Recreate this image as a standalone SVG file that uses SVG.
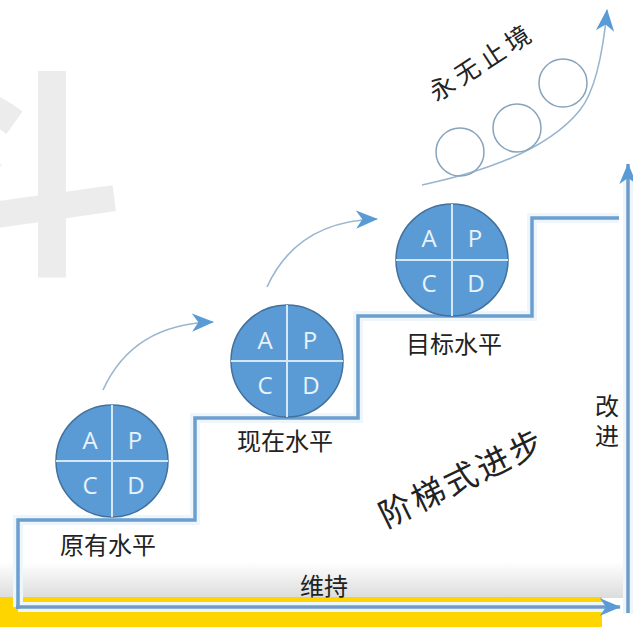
<svg xmlns="http://www.w3.org/2000/svg" width="633" height="627" viewBox="0 0 633 627">
<defs>
<style>
.cjk{font-family:"Noto Sans CJK SC","Noto Sans",sans-serif;fill:#222;}
.lbl{font-size:24px;text-anchor:middle;}
.disk{fill:#5b9bd5;stroke:#41719c;stroke-width:1.5;}
.div{stroke:#d4e8f7;stroke-width:2;}
.let{font-family:"Open Sans","Liberation Sans",sans-serif;font-size:24px;fill:#e8f3fc;text-anchor:middle;}
.halo{fill:none;stroke:#eef5fb;stroke-width:10;stroke-linejoin:miter;}
.stair{fill:none;stroke:#6a9fd0;stroke-width:3.5;stroke-linejoin:miter;}
.axis{fill:none;stroke:#6f9cc6;stroke-width:3.5;}
.curve{fill:none;stroke:#9ab6cf;stroke-width:1.6;}
.ring{fill:none;stroke:#86a3bb;stroke-width:1.5;}
</style>
<linearGradient id="fade" x1="0" y1="0" x2="0" y2="1">
<stop offset="0" stop-color="#ffffff"/>
<stop offset="1" stop-color="#dcdcdc"/>
</linearGradient>
<marker id="ah" viewBox="0 0 12 10" refX="11.5" refY="5" markerUnits="userSpaceOnUse" markerWidth="21" markerHeight="18" orient="auto">
<path d="M0,0 L12,5 L0,10 L3.5,5 z" fill="#5b9bd5"/>
</marker>
<marker id="ahs" viewBox="0 0 12 10" refX="11.5" refY="5" markerUnits="userSpaceOnUse" markerWidth="22" markerHeight="20" orient="auto">
<path d="M0,0 L12,5 L0,10 L3.5,5 z" fill="#5b9bd5"/>
</marker>
</defs>

<rect width="633" height="627" fill="#ffffff"/>

<g id="watermark">
<text x="-94" y="258" font-family="Noto Sans CJK SC, sans-serif" font-weight="bold" font-size="220" fill="#ececec">斗</text>
</g>

<g id="footer-band">
<rect x="0" y="562" width="633" height="36" fill="url(#fade)"/>
<rect x="0" y="597" width="602" height="30" fill="#ffd500"/>
</g>

<g id="connectors">
<path class="halo" d="M18,607 L18,520 L195,520 L195,418 L358,418 L358,316 L532,316 L532,218 L619,218"/>
<path class="halo" d="M18,607 L610,607"/>
<path class="halo" d="M628,614 L628,180"/>
<path class="stair" d="M18,609 L18,520 L195,520 L195,418 L358,418 L358,316 L532,316 L532,218 L619,218"/>
<path class="axis" d="M16,607 L620,607" marker-end="url(#ah)"/>
<path class="axis" d="M628,613 L628,164" marker-end="url(#ah)"/>
<path class="curve" d="M103,390 Q133,324 213,322" marker-end="url(#ahs)"/>
<path class="curve" d="M267,287 Q297,221 377,219" marker-end="url(#ahs)"/>
<path class="curve" d="M422,185 Q540,160 580,110 Q600,85 607,10" marker-end="url(#ahs)"/>
</g>

<g id="endless">
<circle class="ring" cx="460" cy="152" r="24"/>
<circle class="ring" cx="517" cy="128" r="24"/>
<circle class="ring" cx="563" cy="83" r="24"/>
<text class="cjk" transform="translate(482 62) rotate(-33)" x="0" y="9" font-size="25" letter-spacing="5" text-anchor="middle">永无止境</text>
</g>

<g id="level-original">
<circle class="disk" cx="112" cy="461" r="56"/>
<line class="div" x1="112" y1="405" x2="112" y2="517"/>
<line class="div" x1="56" y1="461" x2="168" y2="461"/>
<text class="let" x="90" y="449">A</text>
<text class="let" x="135" y="449">P</text>
<text class="let" x="90" y="494">C</text>
<text class="let" x="136" y="494">D</text>
<text class="cjk lbl" x="108" y="554">原有水平</text>
</g>

<g id="level-current">
<circle class="disk" cx="287" cy="361" r="56"/>
<line class="div" x1="287" y1="305" x2="287" y2="417"/>
<line class="div" x1="231" y1="361" x2="343" y2="361"/>
<text class="let" x="265" y="349">A</text>
<text class="let" x="310" y="349">P</text>
<text class="let" x="265" y="394">C</text>
<text class="let" x="311" y="394">D</text>
<text class="cjk lbl" x="285" y="450">现在水平</text>
</g>

<g id="level-target">
<circle class="disk" cx="452" cy="260" r="56"/>
<line class="div" x1="452" y1="204" x2="452" y2="316"/>
<line class="div" x1="396" y1="260" x2="508" y2="260"/>
<text class="let" x="429" y="247">A</text>
<text class="let" x="475" y="247">P</text>
<text class="let" x="429" y="292">C</text>
<text class="let" x="476" y="292">D</text>
<text class="cjk lbl" x="454" y="353">目标水平</text>
</g>

<g id="labels">
<text class="cjk" transform="translate(462 478) rotate(-26)" x="0" y="12" font-size="33" letter-spacing="3" text-anchor="middle">阶梯式进步</text>
<text class="cjk lbl" x="324" y="595">维持</text>
<text class="cjk" x="607" y="394" font-size="24" letter-spacing="6" style="writing-mode:vertical-rl">改进</text>
</g>
</svg>
